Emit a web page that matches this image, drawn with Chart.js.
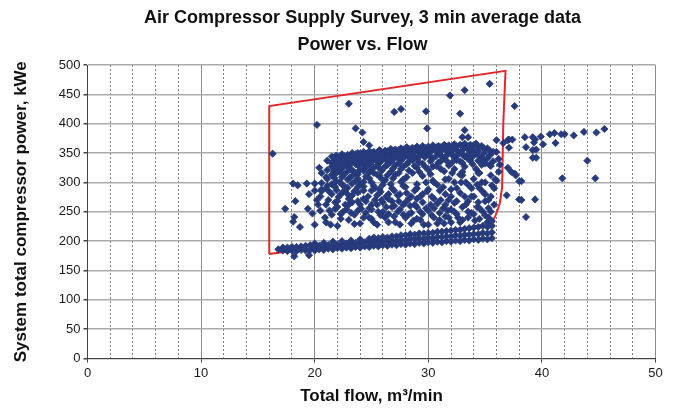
<!DOCTYPE html>
<html>
<head>
<meta charset="utf-8">
<script src="https://cdn.jsdelivr.net/npm/chart.js@4.4.1/dist/chart.umd.min.js"></script>
<style>
  html, body { margin: 0; padding: 0; background: #fff; }
</style>
</head>
<body>
<canvas id="chart" width="675" height="408"></canvas>
<script>
const titleLines = ['Air Compressor Supply Survey, 3 min average data', 'Power vs. Flow'];
const flowTitle = 'Total flow, m³/min';
const powerTitle = 'System total compressor power, kWe';
const flowRange = [0, 50];
const powerRange = [0, 500];

// lower band: [flow, [power readings]]
const lowerBand = [
  [16.8, [186]], [17.2, [184, 189]], [17.6, [183, 189]], [18.0, [184, 190]],
  [18.4, [183, 190]], [18.8, [185, 191]], [19.2, [184, 192]], [19.6, [185, 193]],
  [20.0, [184, 190, 196]], [20.4, [186, 192]], [20.8, [185, 191, 197]], [21.2, [187, 193]],
  [21.6, [186, 192, 199]], [22.0, [188, 194]], [22.4, [187, 193, 200]], [22.8, [189, 196]],
  [23.2, [188, 194, 201]], [23.6, [190, 197]], [24.0, [189, 196, 203]], [24.4, [191, 198]],
  [24.8, [190, 197, 204]], [25.2, [192, 199, 206]], [25.6, [191, 198, 205]], [26.0, [193, 200, 207]],
  [26.4, [192, 199, 206]], [26.8, [194, 201, 208]], [27.2, [193, 200, 208]], [27.6, [195, 202, 210]],
  [28.0, [194, 202, 210]], [28.4, [196, 204, 212]], [28.8, [195, 203, 211]], [29.2, [197, 205, 213]],
  [29.6, [196, 204, 213]], [30.0, [198, 206, 214]], [30.4, [197, 205, 214]], [30.8, [199, 207, 216]],
  [31.2, [198, 207, 216]], [31.6, [200, 208, 217]], [32.0, [199, 208, 218]], [32.4, [201, 210, 219]],
  [32.8, [200, 209, 219]], [33.2, [202, 211, 221]], [33.6, [201, 211, 222]], [34.0, [203, 212, 223]],
  [34.4, [202, 212, 224]], [34.8, [204, 214, 226]], [35.2, [203, 213, 224, 232]], [35.6, [205, 215, 226, 234]]
];

// upper dense cluster
const upperCluster = [
  [20.6, [316, 299, 288]], [21.1, [337, 321, 306, 294]], [21.5, [344, 333, 327, 313, 297]],
  [21.9, [346, 340, 330, 322, 316, 302, 287]], [22.4, [348, 341, 334, 324, 309, 297]],
  [22.9, [347, 342, 333, 327, 319, 305, 291]], [23.3, [350, 343, 336, 321, 311, 298]],
  [23.8, [350, 344, 335, 329, 314, 306, 283]], [24.3, [352, 345, 337, 330, 320, 301, 293]],
  [24.8, [353, 346, 339, 331, 317, 307]], [25.2, [352, 347, 338, 325, 316, 294]],
  [25.7, [355, 348, 341, 333, 324, 311, 289]], [26.2, [354, 349, 342, 327, 304]],
  [26.7, [357, 350, 343, 335, 318, 297]], [27.1, [356, 351, 344, 329, 313]],
  [27.6, [358, 352, 345, 337, 323, 301]], [28.1, [360, 353, 346, 331, 309]],
  [28.6, [359, 354, 347, 338, 316]], [29.0, [361, 354, 339, 325, 297]],
  [29.5, [362, 355, 347, 332, 311]], [30.0, [361, 356, 349, 321]],
  [30.4, [363, 357, 341, 327, 303]], [30.9, [362, 356, 349, 334]],
  [31.4, [364, 358, 342, 319]], [31.8, [363, 357, 350, 329, 306]],
  [32.3, [365, 358, 343, 323]], [32.8, [364, 351, 336, 313]],
  [33.2, [366, 359, 344, 327]], [33.7, [364, 353, 337]],
  [34.2, [366, 350, 323]], [34.7, [362, 343, 330]],
  [35.2, [358, 341]], [35.7, [352, 336]]
];

// more readings filling the top of the cluster
const upperFill = [
  [21.7, [341, 336, 319, 308]], [22.2, [344, 337, 327, 318, 300]], [22.6, [345, 336, 329, 314, 293]],
  [23.1, [346, 338, 330, 322, 308]], [23.6, [348, 339, 331, 316, 302]], [24.0, [349, 340, 332, 322, 298]],
  [24.5, [349, 341, 334, 325, 310]], [25.0, [350, 342, 335, 321, 300]], [25.5, [351, 344, 336, 329, 313]],
  [25.9, [352, 345, 337, 320, 306]], [26.4, [353, 346, 336, 330, 312]], [26.9, [354, 347, 339, 324, 307]],
  [27.4, [355, 348, 340, 333, 316]], [27.8, [356, 349, 341, 327, 305]], [28.3, [357, 350, 342, 335, 320]],
  [28.8, [357, 351, 343, 328]], [29.2, [358, 351, 344, 334, 318]], [29.7, [359, 352, 343, 327]],
  [30.2, [359, 352, 344, 336, 314]], [30.7, [360, 353, 345, 328]], [31.1, [360, 353, 346, 336, 323]],
  [31.6, [361, 354, 346, 337]], [32.1, [361, 354, 347, 334, 316]], [32.5, [362, 355, 345, 338]],
  [33.0, [362, 355, 348, 333, 318]], [33.5, [362, 356, 347, 340]], [33.9, [362, 356, 344, 331]],
  [34.4, [360, 354, 346, 337, 316]], [34.9, [358, 350, 336]], [35.4, [354, 346, 330]]
];

// scattered readings between band and cluster
const midColumns = [
  [20.0, [228, 286]], [20.5, [252, 276]], [21.0, [232, 262, 290]], [21.5, [245, 280]],
  [22.0, [226, 258, 268]], [22.5, [250, 284]], [23.0, [236, 262, 272]], [23.5, [245, 285]],
  [24.0, [230, 262, 296]], [24.5, [248, 268]], [25.0, [238, 254, 286]], [25.5, [228, 262, 278]],
  [26.0, [250, 266, 296]], [26.5, [232, 246, 272]], [27.0, [242, 260, 286]], [27.5, [228, 254, 280]],
  [28.0, [240, 266, 292]], [28.5, [230, 248, 276]], [29.0, [238, 258, 290]], [29.5, [246, 266, 280]],
  [30.0, [228, 252, 288]], [30.5, [256, 272, 300]], [31.0, [236, 248, 286]], [31.5, [242, 262, 280, 305]],
  [32.0, [232, 254, 276]], [32.5, [246, 268, 290]], [33.0, [236, 258, 312]], [33.5, [240, 268, 296]],
  [34.0, [246, 276, 306]], [34.5, [238, 256, 290, 316]], [35.0, [244, 268, 300, 332]], [35.5, [250, 276, 312, 328]]
];

const midFill = [
  [21.3, [252, 284]], [21.8, [266, 292]], [22.3, [246, 280]], [22.8, [254, 290]], [23.3, [266, 278]],
  [23.8, [252, 292]], [24.3, [272, 286]], [24.8, [240, 256]], [25.3, [270, 290]], [25.8, [244, 284]],
  [26.3, [258, 276]], [26.8, [268, 290]], [27.3, [250, 278]], [27.8, [262, 294]], [28.3, [246, 272]],
  [28.8, [262, 286]], [29.3, [236, 276]], [29.8, [256, 300]], [30.3, [244, 276]], [30.8, [230, 264]],
  [31.3, [256, 292]], [31.8, [240, 270]], [32.3, [250, 300]], [32.8, [232, 282]], [33.3, [262, 300]],
  [33.8, [248, 276]], [34.3, [258, 296]], [34.8, [250, 284]], [35.3, [240, 270]], [35.8, [262, 290]]
];

const midPoints = [
  [17.4, 255], [18.1, 298], [18.5, 295], [18.3, 268], [18.2, 241], [18.1, 233], [18.7, 224], [19.3, 298],
  [20.0, 298], [19.5, 280], [19.4, 255], [19.8, 247], [20.2, 270], [20.4, 325], [21.0, 309], [21.6, 332],
  [18.2, 174], [19.5, 176], [20.3, 262], [20.6, 285], [20.9, 240], [21.2, 270], [21.4, 228], [21.8, 255],
  [22.1, 275], [22.3, 238], [22.7, 262], [22.9, 280], [23.2, 248], [23.5, 229], [23.8, 268], [24.1, 255],
  [24.3, 240], [24.7, 276], [25.0, 262], [25.2, 232], [25.6, 250], [25.9, 270], [26.2, 240], [26.5, 280],
  [26.8, 258], [27.1, 232], [27.4, 268], [27.8, 245], [28.1, 282], [28.4, 260], [28.7, 235], [29.0, 272],
  [29.3, 250], [29.6, 228], [29.9, 285], [30.2, 262], [30.5, 240], [30.8, 296], [31.1, 270], [31.4, 230],
  [31.7, 252], [32.0, 288], [32.3, 265], [32.6, 240], [32.9, 300], [33.2, 276], [33.5, 250], [33.8, 290],
  [34.1, 235], [34.4, 266], [34.7, 300], [35.0, 280], [35.3, 256], [35.6, 295], [35.9, 305], [36.2, 318],
  [36.2, 340], [36.0, 352], [36.3, 330]
];

const highPoints = [
  [16.3, 349], [20.2, 398], [23.0, 434], [23.6, 392], [24.2, 385], [24.3, 369], [24.8, 363],
  [27.0, 420], [27.6, 425], [29.8, 421], [29.9, 392], [31.9, 448], [33.2, 457], [35.4, 468],
  [32.8, 417], [33.2, 389], [33.0, 377], [33.5, 377], [37.6, 430], [36.6, 367], [36.0, 372]
];

const rightPoints = [
  [37.0, 372], [37.1, 373], [37.4, 373], [37.1, 359], [38.5, 377], [38.6, 360], [39.2, 377], [39.4, 373],
  [39.3, 368], [39.2, 355], [39.5, 356], [39.2, 342], [39.5, 342], [39.9, 378], [40.1, 365], [40.7, 382],
  [41.1, 384], [41.2, 367], [41.7, 382], [42.0, 382], [42.8, 380], [43.7, 386], [44.8, 385], [45.5, 391],
  [44.0, 337], [41.8, 307], [44.7, 307], [37.0, 325], [37.6, 315], [37.7, 312], [38.0, 302], [38.2, 302],
  [36.0, 303], [36.9, 278], [38.0, 271], [38.2, 270], [39.4, 271], [38.6, 241], [37.3, 318]
];

// red operating envelope
const envelope = [
  [16, 178], [16, 430], [36.8, 490], [36.6, 400], [36.5, 292], [36.3, 265], [36.1, 253],
  [35.9, 243], [35.7, 235], [35.4, 230], [35.1, 227], [32.7, 221], [16, 178]
];

const fromColumns = cols => cols.flatMap(([x, ys]) => ys.map(y => ({ x, y })));
const fromPairs = pairs => pairs.map(([x, y]) => ({ x, y }));

const surveyPoints = [
  ...fromColumns(lowerBand),
  ...fromColumns(midColumns),
  ...fromColumns(midFill),
  ...fromPairs(midPoints),
  ...fromColumns(upperCluster),
  ...fromColumns(upperFill),
  ...fromPairs(highPoints),
  ...fromPairs(rightPoints)
];

const FONT = "'Liberation Sans', Arial, sans-serif";

// title centred over the plot area, like the original
const titlePlugin = {
  id: 'plotTitle',
  afterDraw(chart) {
    const ctx = chart.ctx;
    const cx = (chart.chartArea.left + chart.chartArea.right) / 2 - 9;
    ctx.save();
    ctx.fillStyle = '#111';
    ctx.font = 'bold 18px ' + FONT;
    ctx.textAlign = 'center';
    ctx.textBaseline = 'middle';
    ctx.fillText(titleLines[0], cx, 18);
    ctx.fillText(titleLines[1], cx, 45);
    ctx.restore();
  }
};

const minorColor = ctx => (ctx.tick && ctx.tick.value % 10 === 0) ? 'rgba(0,0,0,0)' : '#808080';

new Chart(document.getElementById('chart'), {
  type: 'scatter',
  data: {
    datasets: [
      {
        label: 'Survey',
        data: surveyPoints,
        pointStyle: 'rectRot',
        pointRadius: 3.6,
        pointBorderWidth: 0.8,
        backgroundColor: '#263a7c',
        borderColor: '#263a7c'
      },
      {
        label: 'Envelope',
        data: fromPairs(envelope),
        showLine: true,
        fill: false,
        tension: 0,
        pointRadius: 0,
        borderColor: '#e3272b',
        borderWidth: 2
      }
    ]
  },
  options: {
    responsive: false,
    animation: false,
    events: [],
    layout: { padding: { top: 65, right: 19.5, left: 0, bottom: 0 } },
    plugins: {
      legend: { display: false },
      tooltip: { enabled: false }
    },
    scales: {
      x: {
        type: 'linear',
        min: flowRange[0],
        max: flowRange[1],
        ticks: { stepSize: 10, color: '#1a1a1a', font: { family: FONT, size: 13 }, padding: 3 },
        grid: { color: '#8c8c8c', lineWidth: 1, tickLength: 4, tickColor: '#444' },
        border: { color: '#444', width: 1 },
        title: { display: true, text: flowTitle, color: '#111', font: { family: FONT, size: 17, weight: 'bold' }, padding: { top: 0, bottom: 1 } },
        afterFit: s => { s.height = 49.5; }
      },
      xMinor: {
        type: 'linear',
        position: 'bottom',
        min: flowRange[0],
        max: flowRange[1],
        ticks: { stepSize: 2, display: false },
        grid: { color: minorColor, lineWidth: 1, drawTicks: false },
        border: { display: false, dash: [2, 2] }
      },
      y: {
        type: 'linear',
        min: powerRange[0],
        max: powerRange[1],
        ticks: { stepSize: 50, color: '#1a1a1a', font: { family: FONT, size: 13 }, padding: 3 },
        grid: { color: '#ababab', lineWidth: 1.5, tickLength: 4, tickColor: '#444' },
        border: { color: '#444', width: 1 },
        title: { display: true, text: powerTitle, color: '#111', font: { family: FONT, size: 17, weight: 'bold' }, padding: { top: 11, bottom: 0 } },
        afterFit: s => { s.width = 87.5; }
      },
      yMinor: {
        type: 'linear',
        position: 'left',
        min: powerRange[0],
        max: powerRange[1],
        ticks: { stepSize: 10, display: false },
        grid: { color: minorColor, lineWidth: 1, drawTicks: false },
        border: { display: false, dash: [2, 2] }
      }
    }
  },
  plugins: [titlePlugin]
});
</script>
</body>
</html>
